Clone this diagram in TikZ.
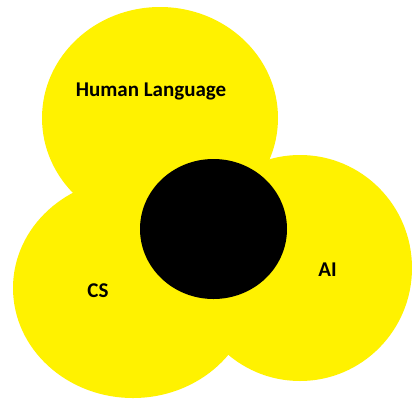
\documentclass[tikz,border=0pt]{standalone}
\usepackage{fontspec}
\setmainfont{Carlito}
\definecolor{venny}{RGB}{255,242,0}
\begin{document}
\begin{tikzpicture}[x=1pt,y=-1pt,
  blob/.style={fill=venny,draw=none},
  lbl/.style={font=\fontsize{21}{25}\selectfont\bfseries,text=black,inner sep=0pt}]
\useasboundingbox (0,0) rectangle (412,400);
\fill[white] (0,0) rectangle (412,400);
\fill[blob] (160,118) ellipse [x radius=118, y radius=111];
\fill[blob] (133,288) ellipse [x radius=120, y radius=110];
\fill[blob] (300,268) ellipse [x radius=112, y radius=113];
\fill[black] (213.5,229) ellipse [x radius=73.5, y radius=70];
\node[lbl] (hl) at (151,91) {Human Language};
\node[lbl] (cs) at (98,291) {CS};
\node[lbl] (ai) at (327.5,270) {AI};
\end{tikzpicture}
\end{document}
